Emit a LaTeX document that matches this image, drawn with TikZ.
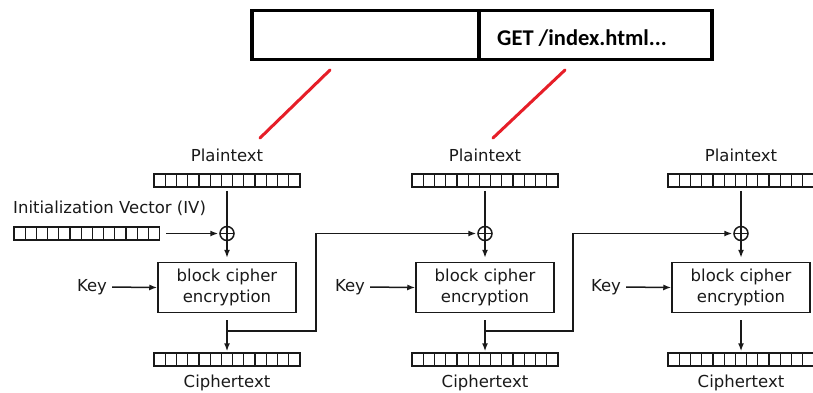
\documentclass[tikz,border=0pt]{standalone}
\usepackage{fontspec}
\setmainfont{DejaVu Sans}
\newfontfamily\calfont{Carlito}
\usetikzlibrary{arrows.meta}
\definecolor{ink}{RGB}{25,25,25}
\definecolor{redline}{RGB}{230,30,40}
\begin{document}
\begin{tikzpicture}[x=1pt,y=-1pt,
  lw/.style={line width=1.5pt, draw=ink},
  lbl/.style={font=\fontsize{16.5}{19}\selectfont, inner sep=0, text=ink},
  reg/.style={lw, minimum width=145.6pt, minimum height=13pt, inner sep=0,
    path picture={\foreach \i in {1,...,12}{\draw[lw, line width=1.3pt] ([xshift=\i*11.2pt]path picture bounding box.south west) -- ([xshift=\i*11.2pt]path picture bounding box.north west);}}},
  cipherbox/.style={lw, minimum width=138pt, minimum height=50pt, align=center, inner sep=0,
    font=\fontsize{16.5}{21.5}\selectfont, text=ink},
  xor/.style={circle, lw, minimum size=14pt, inner sep=0,
    path picture={\draw[lw] (path picture bounding box.north) -- (path picture bounding box.south) (path picture bounding box.west) -- (path picture bounding box.east);}},
  arr/.style={lw, -{Latex[length=8pt,width=6pt]}},
  ln/.style={lw},
  topbox/.style={draw=black, line width=3.5pt, minimum height=49pt, inner sep=0},
  red/.style={draw=redline, line width=3pt, line cap=round}
]
\useasboundingbox (0,0) rectangle (813,392);

% top packet box
\node[topbox, minimum width=227pt] (tl) at (365.5,35) {};
\node[topbox, minimum width=233pt] (tr) at (595.5,35) {};
\node[font=\calfont\bfseries\fontsize{22.5}{25}\selectfont, anchor=west, inner sep=0] (get) at (497,38) {GET /index.html...};

% red lines
\coordinate (r1a) at (330,70);
\coordinate (r1b) at (260,138);
\coordinate (r2a) at (565,70);
\coordinate (r2b) at (493,138);
\draw[red] (r1a) -- (r1b);
\draw[red] (r2a) -- (r2b);

% IV
\node[lbl, anchor=west] (ivl) at (13,208) {Initialization Vector (IV)};
\node[reg] (iv) at (86.8,233.5) {};

% stages
\foreach \c/\n in {227/1,485/2,741/3}{
  \node[lbl] (ptl\n) at (\c,155) {Plaintext};
  \node[reg] (pt\n) at (\c,180.5) {};
  \node[xor] (xor\n) at (\c,233.5) {};
  \node[cipherbox] (bc\n) at (\c,287.5) {block cipher\\encryption};
  \node[lbl] (key\n) at (\c-135,287) {Key};
  \node[reg] (ct\n) at (\c,359.5) {};
  \node[lbl] (ctl\n) at (\c,383) {Ciphertext};
  \coordinate (j\n) at (\c,331);
  \draw[ln, shorten <=3pt] (pt\n.south) -- (xor\n.north);
  \draw[arr, shorten >=4pt] (xor\n.south) -- (bc\n.north);
  \draw[arr, shorten <=5pt] (key\n.east) -- (bc\n.west);
  \draw[arr, shorten <=7pt, shorten >=1pt] (bc\n.south) -- (ct\n.north);
}

\draw[arr, shorten <=6pt, shorten >=1pt] (iv.east) -- (xor1.west);

\coordinate (b1) at (316,233.5);
\coordinate (b2) at (573,233.5);
\draw[arr, shorten >=1pt] (j1) -| (b1) -- (xor2.west);
\draw[arr, shorten >=1pt] (j2) -| (b2) -- (xor3.west);
\end{tikzpicture}
\end{document}
